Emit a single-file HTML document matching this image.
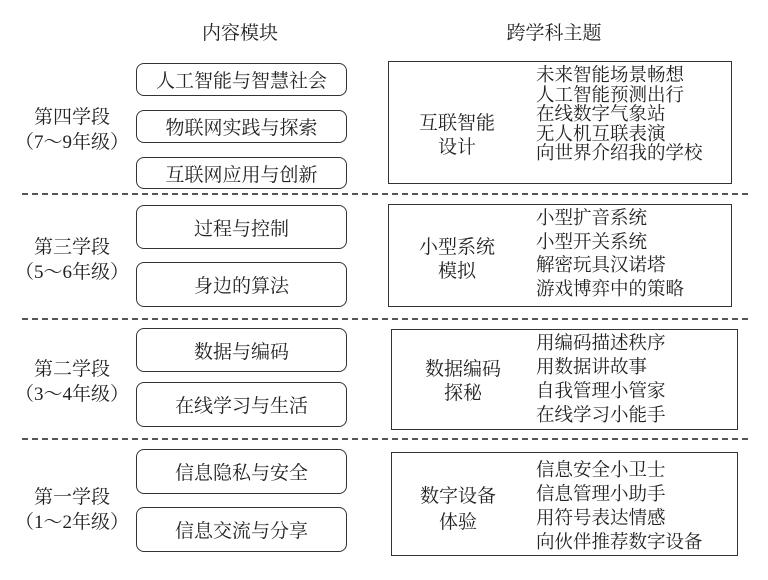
<!DOCTYPE html>
<html><head><meta charset="utf-8"><style>
body{margin:0;width:768px;height:580px;background:#fff;position:relative;overflow:hidden;font-family:"Liberation Serif","Noto Serif CJK SC",serif;color:#222}
.t{position:absolute;white-space:nowrap;line-height:1;font-size:19px}
.c{transform:translateX(-50%)}
.b{position:absolute;border:1.5px solid #333;border-radius:8px;box-sizing:border-box;display:flex;align-items:center;justify-content:center;font-size:19px}
.r{position:absolute;border:1.5px solid #333;box-sizing:border-box}
.d{position:absolute;left:22px;width:726px;border-top:2px dashed #555;height:0}
.l{position:absolute;left:536px;font-size:18.5px;white-space:nowrap}
</style></head><body>
<div class="t c" style="left:240px;top:24px">内容模块</div>
<div class="t c" style="left:554px;top:24px">跨学科主题</div>

<div class="b" style="left:136px;top:63px;width:211px;height:33px">人工智能与智慧社会</div>
<div class="b" style="left:136px;top:110px;width:211px;height:33px">物联网实践与探索</div>
<div class="b" style="left:136px;top:157px;width:211px;height:32px">互联网应用与创新</div>
<div class="t c" style="left:72px;top:108px">第四学段</div>
<div class="t c" style="left:72px;top:133px">（7～9年级）</div>
<div class="r" style="left:388px;top:61px;width:344px;height:123px"></div>
<div class="t c" style="left:457px;top:114px">互联智能</div>
<div class="t c" style="left:457px;top:138px">设计</div>
<div class="l" style="top:67px;line-height:19.5px">未来智能场景畅想<br>人工智能预测出行<br>在线数字气象站<br>无人机互联表演<br>向世界介绍我的学校</div>
<div class="d" style="top:193px"></div>

<div class="b" style="left:136px;top:205px;width:211px;height:44px">过程与控制</div>
<div class="b" style="left:136px;top:262px;width:211px;height:45px">身边的算法</div>
<div class="t c" style="left:72px;top:238px">第三学段</div>
<div class="t c" style="left:72px;top:263px">（5～6年级）</div>
<div class="r" style="left:388px;top:204px;width:344px;height:103px"></div>
<div class="t c" style="left:457px;top:238px">小型系统</div>
<div class="t c" style="left:457px;top:262px">模拟</div>
<div class="l" style="top:208px;line-height:23.5px">小型扩音系统<br>小型开关系统<br>解密玩具汉诺塔<br>游戏博弈中的策略</div>
<div class="d" style="top:318px"></div>

<div class="b" style="left:136px;top:328px;width:211px;height:44px">数据与编码</div>
<div class="b" style="left:136px;top:382px;width:211px;height:45px">在线学习与生活</div>
<div class="t c" style="left:72px;top:360px">第二学段</div>
<div class="t c" style="left:72px;top:385px">（3～4年级）</div>
<div class="r" style="left:391px;top:329px;width:347px;height:101px"></div>
<div class="t c" style="left:463px;top:360px">数据编码</div>
<div class="t c" style="left:463px;top:384px">探秘</div>
<div class="l" style="top:332px;line-height:24px">用编码描述秩序<br>用数据讲故事<br>自我管理小管家<br>在线学习小能手</div>
<div class="d" style="top:438px"></div>

<div class="b" style="left:136px;top:449px;width:211px;height:45px">信息隐私与安全</div>
<div class="b" style="left:136px;top:507px;width:211px;height:45px">信息交流与分享</div>
<div class="t c" style="left:72px;top:488px">第一学段</div>
<div class="t c" style="left:72px;top:513px">（1～2年级）</div>
<div class="r" style="left:391px;top:452px;width:347px;height:104px"></div>
<div class="t c" style="left:458px;top:487px">数字设备</div>
<div class="t c" style="left:458px;top:513px">体验</div>
<div class="l" style="top:459px;line-height:24px">信息安全小卫士<br>信息管理小助手<br>用符号表达情感<br>向伙伴推荐数字设备</div>
</body></html>
